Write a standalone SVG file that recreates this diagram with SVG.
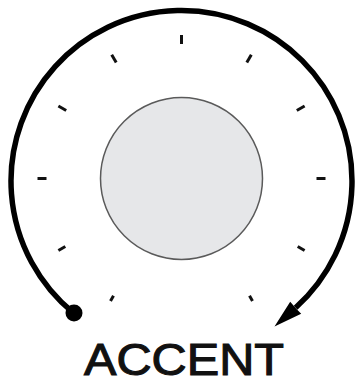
<svg xmlns="http://www.w3.org/2000/svg" width="355" height="385" viewBox="0 0 355 385">
  <style>
    .tick { stroke: #111; stroke-width: 3; stroke-linecap: butt; }
    .arc { fill: none; stroke: #000; stroke-width: 5.5; }
    .label { font-family: "Liberation Sans", Arial, sans-serif; font-size: 45px; fill: #111; stroke: #111; stroke-width: 1.1; }
  </style>
  <rect width="355" height="385" fill="#fff"/>
  <g id="ticks">
    <line class="tick" x1="181.5" y1="35" x2="181.5" y2="44"/>
    <line class="tick" x1="111.7" y1="54.8" x2="116.2" y2="62.5"/>
    <line class="tick" x1="251.3" y1="54.8" x2="246.8" y2="62.5"/>
    <line class="tick" x1="58.4" y1="106" x2="66.2" y2="110.5"/>
    <line class="tick" x1="304.6" y1="106" x2="296.8" y2="110.5"/>
    <line class="tick" x1="37.5" y1="178.5" x2="46.5" y2="178.5"/>
    <line class="tick" x1="325.5" y1="178.5" x2="316.5" y2="178.5"/>
    <line class="tick" x1="58.4" y1="250.5" x2="65.3" y2="246.5"/>
    <line class="tick" x1="304.6" y1="250.5" x2="297.7" y2="246.5"/>
    <line class="tick" x1="110.5" y1="301" x2="113.5" y2="295.8"/>
    <line class="tick" x1="252.5" y1="301" x2="249.5" y2="295.8"/>
  </g>
  <g id="knob">
    <circle cx="181.5" cy="178.5" r="81" fill="#e6e7e9" stroke="#5a5a5a" stroke-width="1.5"/>
  </g>
  <g id="connectors">
    <path class="arc" d="M 73.7 313.1 A 170.5 170.5 0 1 1 295.6 307.7"/>
    <circle cx="74" cy="313" r="8.5" fill="#000"/>
    <polygon points="301.2,313.8 274.5,326.6 290.2,301.8 296.5,309" fill="#000"/>
  </g>
  <g id="label">
    <text class="label" x="184" y="375" text-anchor="middle" textLength="200" lengthAdjust="spacingAndGlyphs">ACCENT</text>
  </g>
</svg>
